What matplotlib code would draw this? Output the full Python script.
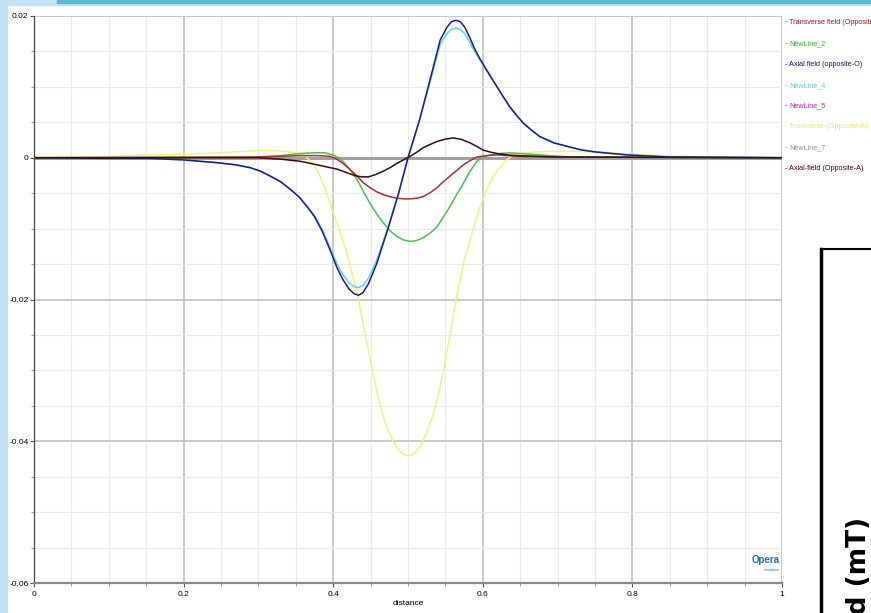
import matplotlib
matplotlib.use("Agg")
import matplotlib.pyplot as plt
from matplotlib.patches import Rectangle
from matplotlib.ticker import MultipleLocator

plt.rcParams['font.family'] = ['Liberation Sans', 'DejaVu Sans']

# ------------------------------------------------------------
# data
# ------------------------------------------------------------
x_axial_o = [0.0, 0.10, 0.155, 0.20, 0.245, 0.27, 0.289, 0.303, 0.316, 0.33,
             0.342, 0.355, 0.365, 0.375, 0.385, 0.395, 0.405, 0.413, 0.421, 0.428,
             0.434, 0.440, 0.447, 0.458, 0.473, 0.487, 0.5, 0.515, 0.529, 0.543,
             0.552, 0.558, 0.564, 0.570, 0.576, 0.582, 0.589, 0.596, 0.605, 0.619,
             0.628, 0.636, 0.645, 0.654, 0.665, 0.676, 0.695, 0.713, 0.732, 0.752,
             0.793, 0.85, 1.0]
y_axial_o = [0.0, -0.0001, -0.0001, -0.0003, -0.0007, -0.0010, -0.0014, -0.0019, -0.0026, -0.0034,
             -0.0044, -0.0056, -0.0069, -0.0083, -0.0103, -0.0128, -0.0155, -0.0172, -0.0185, -0.0192,
             -0.0194, -0.0190, -0.0178, -0.0150, -0.0101, -0.0052, 0.0, 0.0052, 0.0108, 0.0166,
             0.0184, 0.0192, 0.0194, 0.0192, 0.0184, 0.0171, 0.0154, 0.0140, 0.0124, 0.0100,
             0.0085, 0.0072, 0.0060, 0.0049, 0.0039, 0.0030, 0.0021, 0.0016, 0.0011, 0.0008,
             0.0004, 0.0001, 0.0]

x_newline4 = list(x_axial_o)
y_newline4 = [0.0, -0.0001, -0.0001, -0.0003, -0.0007, -0.0010, -0.0014, -0.0019, -0.0026, -0.0034,
              -0.0044, -0.0056, -0.0068, -0.0082, -0.0101, -0.0125, -0.0150, -0.0165, -0.0176, -0.0182,
              -0.0183, -0.0180, -0.0170, -0.0145, -0.0099, -0.0051, 0.0, 0.0051, 0.0105, 0.0160,
              0.0175, 0.0181, 0.0183, 0.0181, 0.0175, 0.0164, 0.0150, 0.0138, 0.0123, 0.0100,
              0.0085, 0.0072, 0.0060, 0.0049, 0.0039, 0.0030, 0.0021, 0.0016, 0.0011, 0.0008,
              0.0004, 0.0001, 0.0]

x_trans_a = [0.0, 0.10, 0.155, 0.20, 0.245, 0.28, 0.301, 0.32, 0.336, 0.35,
             0.362, 0.372, 0.380, 0.387, 0.394, 0.401, 0.409, 0.418, 0.425, 0.433,
             0.442, 0.452, 0.460, 0.469, 0.477, 0.485, 0.492, 0.5, 0.508, 0.516,
             0.524, 0.533, 0.540, 0.547, 0.556, 0.565, 0.575, 0.587, 0.596, 0.605,
             0.614, 0.623, 0.632, 0.640, 0.652, 0.667, 0.69, 0.72, 0.76, 0.787,
             0.837, 0.90, 1.0]
y_trans_a = [0.0001, 0.0002, 0.0004, 0.0005, 0.0007, 0.0009, 0.0010, 0.0010, 0.0009, 0.0007,
             0.0003, -0.0007, -0.0020, -0.0038, -0.0058, -0.0080, -0.0104, -0.0134, -0.0162, -0.0196,
             -0.0246, -0.0298, -0.0338, -0.0373, -0.0394, -0.0409, -0.0417, -0.0421, -0.0417, -0.0408,
             -0.0390, -0.0365, -0.0336, -0.0303, -0.0250, -0.0196, -0.0145, -0.0101, -0.0070, -0.0045,
             -0.0026, -0.0013, -0.0003, 0.0003, 0.0006, 0.0008, 0.0009, 0.0009, 0.0008, 0.0006,
             0.0003, 0.0001, 0.0]

x_newline2 = [0.0, 0.30, 0.33, 0.356, 0.375, 0.389, 0.400, 0.407, 0.413, 0.422,
              0.432, 0.440, 0.449, 0.458, 0.467, 0.476, 0.485, 0.494, 0.503, 0.511,
              0.520, 0.530, 0.539, 0.547, 0.556, 0.565, 0.574, 0.583, 0.592, 0.600,
              0.610, 0.622, 0.636, 0.650, 0.663, 0.69, 0.72, 1.0]
y_newline2 = [0.0, 0.0001, 0.0003, 0.0006, 0.0007, 0.0007, 0.0004, 0.0000, -0.0005, -0.0016,
              -0.0031, -0.0047, -0.0064, -0.0079, -0.0092, -0.0103, -0.0111, -0.0116, -0.0118, -0.0117,
              -0.0113, -0.0106, -0.0097, -0.0084, -0.0069, -0.0052, -0.0036, -0.0019, -0.0005, 0.0001,
              0.0004, 0.0006, 0.0007, 0.0006, 0.0005, 0.0003, 0.0001, 0.0]

x_trans_o = [0.0, 0.289, 0.33, 0.356, 0.38, 0.396, 0.405, 0.413, 0.422, 0.432,
             0.440, 0.449, 0.458, 0.467, 0.476, 0.485, 0.494, 0.503, 0.512, 0.520,
             0.530, 0.539, 0.547, 0.556, 0.565, 0.574, 0.583, 0.592, 0.605, 0.619,
             0.633, 0.646, 0.70, 1.0]
y_trans_o = [0.0, 0.0001, 0.0002, 0.0003, 0.0003, 0.0002, -0.0002, -0.0008, -0.0016, -0.0026,
             -0.0035, -0.0042, -0.0048, -0.0052, -0.0055, -0.0057, -0.0058, -0.0058, -0.0057, -0.0055,
             -0.0049, -0.0042, -0.0034, -0.0026, -0.0018, -0.0010, -0.0004, 0.0001, 0.0003, 0.0004,
             0.0003, 0.0002, 0.0001, 0.0]

x_axial_a = [0.0, 0.30, 0.33, 0.356, 0.370, 0.383, 0.396, 0.405, 0.413, 0.423,
             0.432, 0.440, 0.447, 0.456, 0.467, 0.476, 0.485, 0.494, 0.503, 0.512,
             0.520, 0.530, 0.539, 0.549, 0.560, 0.571, 0.583, 0.592, 0.600, 0.610,
             0.619, 0.633, 0.646, 0.70, 1.0]
y_axial_a = [0.0, 0.0, -0.0002, -0.0005, -0.0008, -0.0011, -0.0014, -0.0016, -0.0019, -0.0023,
             -0.0026, -0.0027, -0.0027, -0.0024, -0.0019, -0.0014, -0.0008, -0.0003, 0.0002, 0.0008,
             0.0014, 0.0019, 0.0023, 0.0026, 0.0028, 0.0026, 0.0021, 0.0016, 0.0011, 0.0008,
             0.0006, 0.0004, 0.0003, 0.0001, 0.0]

x_flat = [0.0, 1.0]
y_flat = [0.0, 0.0]

series = [
    ('Transverse field (Opposite component)', x_trans_o, y_trans_o, '#a83232'),
    ('NewLine_2', x_newline2, y_newline2, '#4cc04c'),
    ('Axial field (opposite-O)', x_axial_o, y_axial_o, '#1c1c8a'),
    ('NewLine_4', x_newline4, y_newline4, '#5fd3e3'),
    ('NewLine_5', x_flat, y_flat, '#c020c0'),
    ('Transverse-(Opposite-A)', x_trans_a, y_trans_a, '#f2f27a'),
    ('NewLine_7', x_flat, y_flat, '#a0a0a0'),
    ('Axial-field (Opposite-A)', x_axial_a, y_axial_a, '#3a0c0c'),
]
legend_text_colors = ['#a01818', '#30b030', '#14147a', '#50d0e0',
                      '#c020c0', '#e8e860', '#909090', '#3a0c0c']
draw_order = [4, 6, 5, 1, 0, 3, 2, 7]

x_ticks = [0, 0.2, 0.4, 0.6, 0.8, 1]
x_tick_labels = ['0', '0.2', '0.4', '0.6', '0.8', '1']
y_ticks = [0.02, 0, -0.02, -0.04, -0.06]
y_tick_labels = ['0.02', '0', '-0.02', '-0.04', '-0.06']

# ------------------------------------------------------------
W, H = 871, 613
fig = plt.figure(figsize=(W / 100, H / 100), dpi=100)
fig.patch.set_facecolor('white')

# screenshot frame
fig.patches.append(Rectangle((0, 0), 7 / W, 1, transform=fig.transFigure,
                             color='#c3e2f6', zorder=0))
fig.patches.append(Rectangle((0, 1 - 5 / H), 1, 5 / H, transform=fig.transFigure,
                             color='#c3e2f6', zorder=0))
fig.patches.append(Rectangle((57 / W, 1 - 3 / H), 1, 3 / H, transform=fig.transFigure,
                             color='#58b8d2', zorder=1))

ax = fig.add_axes([34 / W, 30 / H, 748 / W, 567 / H])
ax.set_xlim(0, 1)
ax.set_ylim(-0.06, 0.02)

ax.xaxis.set_minor_locator(MultipleLocator(0.05))
ax.yaxis.set_minor_locator(MultipleLocator(0.005))
ax.grid(which='major', color='#c4c4c4', lw=1.3)
ax.grid(which='minor', color='#e9e9e9', lw=0.8)
ax.set_axisbelow(True)

for i in draw_order:
    name, xs, ys, col = series[i]
    lw = 2.2 if name == 'NewLine_7' else 1.1
    ax.plot(xs, ys, color=col, lw=lw, solid_joinstyle='round')

ax.set_xticks(x_ticks)
ax.set_xticklabels(x_tick_labels)
ax.set_yticks(y_ticks)
ax.set_yticklabels(y_tick_labels)
ax.tick_params(which='major', length=3, width=0.8, color='#555555',
               labelsize=6, pad=1)
ax.tick_params(axis='x', which='major', pad=3)
ax.tick_params(which='minor', length=2, width=0.6, color='#888888')
ax.set_xlabel('distance', fontsize=6, labelpad=1)

for s in ['top', 'right']:
    ax.spines[s].set_visible(False)
ax.spines['left'].set_color('#444444')
ax.spines['left'].set_linewidth(0.9)
ax.spines['bottom'].set_color('#888888')
ax.spines['bottom'].set_linewidth(1.6)

# Opera logo
ax.text(0.997, -0.0575, 'Opera', color='#1f6db5', fontsize=7, fontweight='bold',
        ha='right', va='bottom')
ax.text(0.997, -0.0585, 'simulation', color='#1f6db5', fontsize=2.5,
        ha='right', va='bottom')

# legend drawn as text at the right edge
leg_y = [22, 44, 65, 86, 106, 127, 148, 169]
for (name, xs, ys, col), tcol, py in zip(series, legend_text_colors, leg_y):
    fig.text(785 / W, 1 - py / H, '-', color=tcol, fontsize=6, va='center')
    fig.text(789 / W, 1 - py / H, name, color=tcol, fontsize=5.2, va='center')

# overlapping window on the right
ov = fig.add_axes([821 / W, 0, 50 / W, (H - 249) / H])
ov.set_xlim(0, 1)
ov.set_ylim(0, 1)
ov.set_xticks([])
ov.set_yticks([])
for s in ['right', 'bottom']:
    ov.spines[s].set_visible(False)
ov.spines['left'].set_linewidth(2.5)
ov.spines['top'].set_linewidth(1.5)
ov.text(0.76, (H - 517) / (H - 249), 'Magnetic field (mT)', rotation=90,
        fontsize=19, fontweight='bold', family='DejaVu Sans',
        ha='center', va='top', clip_on=True)

fig.savefig('out.png', dpi=100)
